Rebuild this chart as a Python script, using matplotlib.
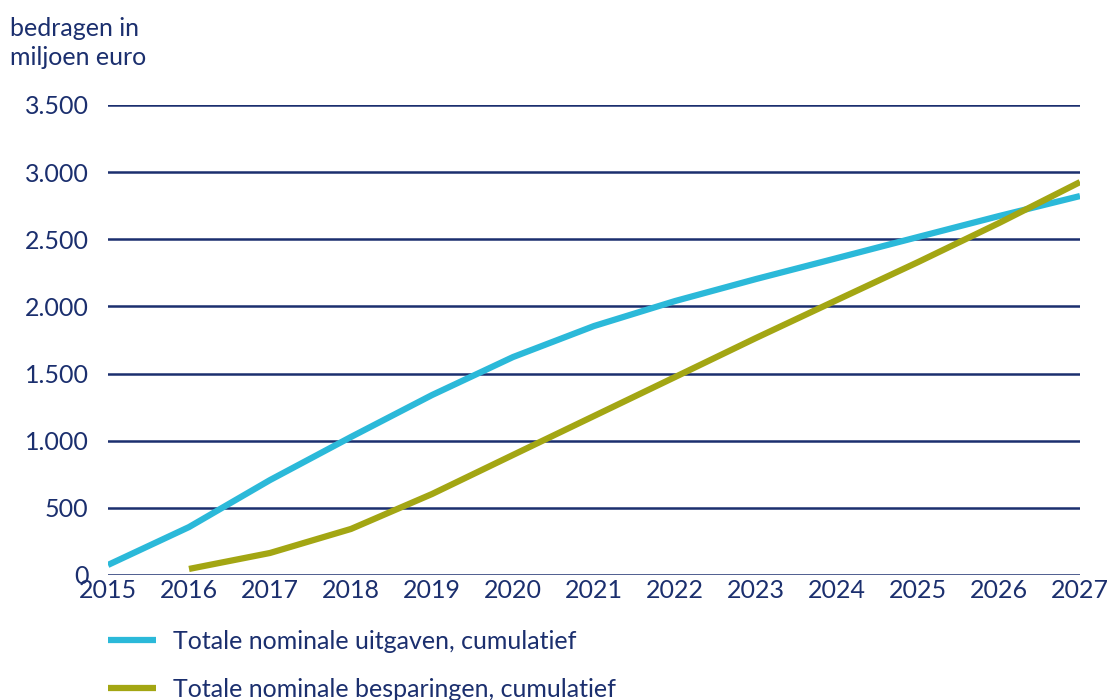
import matplotlib.pyplot as plt
from matplotlib.ticker import FuncFormatter

years = list(range(2015, 2028))
uitgaven = [75, 357, 707, 1028, 1340, 1623, 1854, 2040, 2204, 2360, 2517, 2673, 2822]
besparingen_years = list(range(2016, 2028))
besparingen = [45, 164, 343, 603, 894, 1184, 1474, 1765, 2048, 2330, 2621, 2926]

navy = "#1b2f6e"
blue = "#2bb9d9"
olive = "#a3a613"

plt.rcParams["font.family"] = ["Lato", "DejaVu Sans"]

fig = plt.figure(figsize=(11.07, 7.0), dpi=100)
ax = fig.add_axes([108 / 1107, 1 - 575 / 700, (1080 - 108) / 1107, 470 / 700])

ax.plot(years, uitgaven, color=blue, linewidth=4.5, solid_capstyle="butt",
        label="Totale nominale uitgaven, cumulatief", zorder=3)
ax.plot(besparingen_years, besparingen, color=olive, linewidth=4.5, solid_capstyle="butt",
        label="Totale nominale besparingen, cumulatief", zorder=3)

ax.set_xlim(2015, 2027)
ax.set_ylim(0, 3500)
ax.set_yticks(range(0, 3501, 500))
ax.set_xticks(years)
ax.yaxis.set_major_formatter(FuncFormatter(lambda v, p: f"{int(v):,}".replace(",", ".")))
ax.grid(axis="y", color=navy, linewidth=1.8, zorder=1)
for s in ax.spines.values():
    s.set_visible(False)
ax.tick_params(length=0, colors=navy, labelsize=18)
ax.tick_params(axis="y", pad=14)
ax.tick_params(axis="x", pad=3)
for lbl in ax.get_xticklabels() + ax.get_yticklabels():
    lbl.set_color(navy)

fig.text(10 / 1107, 1 - 43 / 700, "bedragen in\nmiljoen euro", color=navy, fontsize=18,
         va="center", ha="left", linespacing=1.3)

fig.legend(loc="upper left", bbox_to_anchor=(108 / 1107, 1 - 630 / 700), frameon=False,
           fontsize=18, labelcolor=navy, handlelength=1.9, handletextpad=0.7,
           labelspacing=1.0, borderpad=0, borderaxespad=0)

fig.savefig("out.png", dpi=100)
